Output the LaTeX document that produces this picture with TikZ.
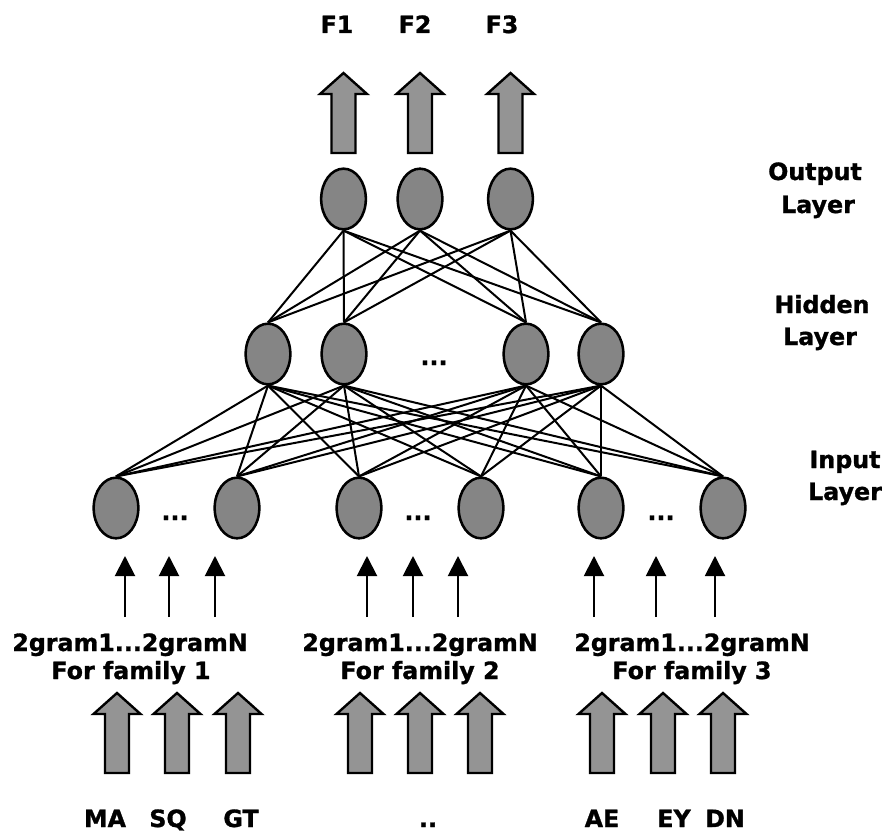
\documentclass[tikz,border=0pt]{standalone}
\usepackage{fontspec}
\setmainfont{DejaVu Sans}[BoldFeatures={FakeBold=1.2}]
\usetikzlibrary{arrows.meta,shapes.geometric}
\definecolor{neuronfill}{gray}{0.52}
\definecolor{arrowfill}{gray}{0.58}
\begin{document}
\begin{tikzpicture}[x=0.75pt,y=-0.75pt,
  font=\bfseries\fontsize{17.8}{21}\selectfont,
  neuron/.style={ellipse,draw,line width=1.9pt,fill=neuronfill,
    minimum width=33.5pt,minimum height=45.5pt,inner sep=0pt},
  link/.style={line width=1.5pt},
  lbl/.style={anchor=base,inner sep=0pt},
  feed/.style={line width=1.5pt,-{Triangle[width=15pt,length=15pt]}},
  fatarrow/.pic={\draw[line width=1.8pt,fill=arrowfill,line join=miter]
    (0,0) -- (23.5,21) -- (12,21) -- (12,80) -- (-12,80) -- (-12,21)
    -- (-23.5,21) -- cycle;}]
\useasboundingbox (0,0) rectangle (891,831);

% output layer
\node[neuron] (o1) at (343.5,199) {};
\node[neuron] (o2) at (420,199) {};
\node[neuron] (o3) at (510.5,199) {};

% hidden layer
\node[neuron] (h1) at (268,354) {};
\node[neuron] (h2) at (344,354) {};
\node[neuron] (h3) at (526,354) {};
\node[neuron] (h4) at (601,354) {};
\node[lbl] (hdots) at (434,365) {...};

% input layer
\node[neuron] (i1) at (116,508) {};
\node[neuron] (i2) at (237,508) {};
\node[neuron] (i3) at (359,508) {};
\node[neuron] (i4) at (481,508) {};
\node[neuron] (i5) at (601,508) {};
\node[neuron] (i6) at (723,508) {};
\node[lbl] (idots1) at (175,520) {...};
\node[lbl] (idots2) at (418,520) {...};
\node[lbl] (idots3) at (661,520) {...};

% full connections between layers
\foreach \o in {o1,o2,o3}
  \foreach \h in {h1,h2,h3,h4}
    \draw[link] (\o.south) -- (\h.north);
\foreach \h in {h1,h2,h3,h4}
  \foreach \i in {i1,i2,i3,i4,i5,i6}
    \draw[link] (\h.south) -- (\i.north);

% outputs
\pic at (343.5,73) {fatarrow};
\pic at (420,73) {fatarrow};
\pic at (510.5,73) {fatarrow};
\node[lbl] (f1) at (337,33) {F1};
\node[lbl] (f2) at (415,33) {F2};
\node[lbl] (f3) at (502,33) {F3};

% layer names
\node[lbl] (ol1) at (815,180) {Output};
\node[lbl] (ol2) at (818,213) {Layer};
\node[lbl] (hl1) at (822,313) {Hidden};
\node[lbl] (hl2) at (820,345) {Layer};
\node[lbl] (il1) at (845,468) {Input};
\node[lbl] (il2) at (845,500) {Layer};

% 2-gram feeds into the input layer
\foreach \x [count=\k] in {125,169,215,367,413,458,594,656,715} {
  \coordinate (fb\k) at (\x,617);
  \coordinate (ft\k) at (\x,556);
  \draw[feed] (fb\k) -- (ft\k);
}

% family captions
\node[lbl] (g1) at (130,651) {2gram1...2gramN};
\node[lbl] (c1) at (131,679) {For family 1};
\node[lbl] (g2) at (420,651) {2gram1...2gramN};
\node[lbl] (c2) at (420,679) {For family 2};
\node[lbl] (g3) at (692,651) {2gram1...2gramN};
\node[lbl] (c3) at (692,679) {For family 3};

% phoneme inputs
\foreach \x in {117,177,238,360,420,480,602,663,723}
  \pic at (\x,693) {fatarrow};
\node[lbl] (p1) at (105,827) {MA};
\node[lbl] (p2) at (168,827) {SQ};
\node[lbl] (p3) at (241,827) {GT};
\node[lbl] (p4) at (428,827) {..};
\node[lbl] (p5) at (602,827) {AE};
\node[lbl] (p6) at (674,827) {EY};
\node[lbl] (p7) at (725,827) {DN};
\end{tikzpicture}
\end{document}
